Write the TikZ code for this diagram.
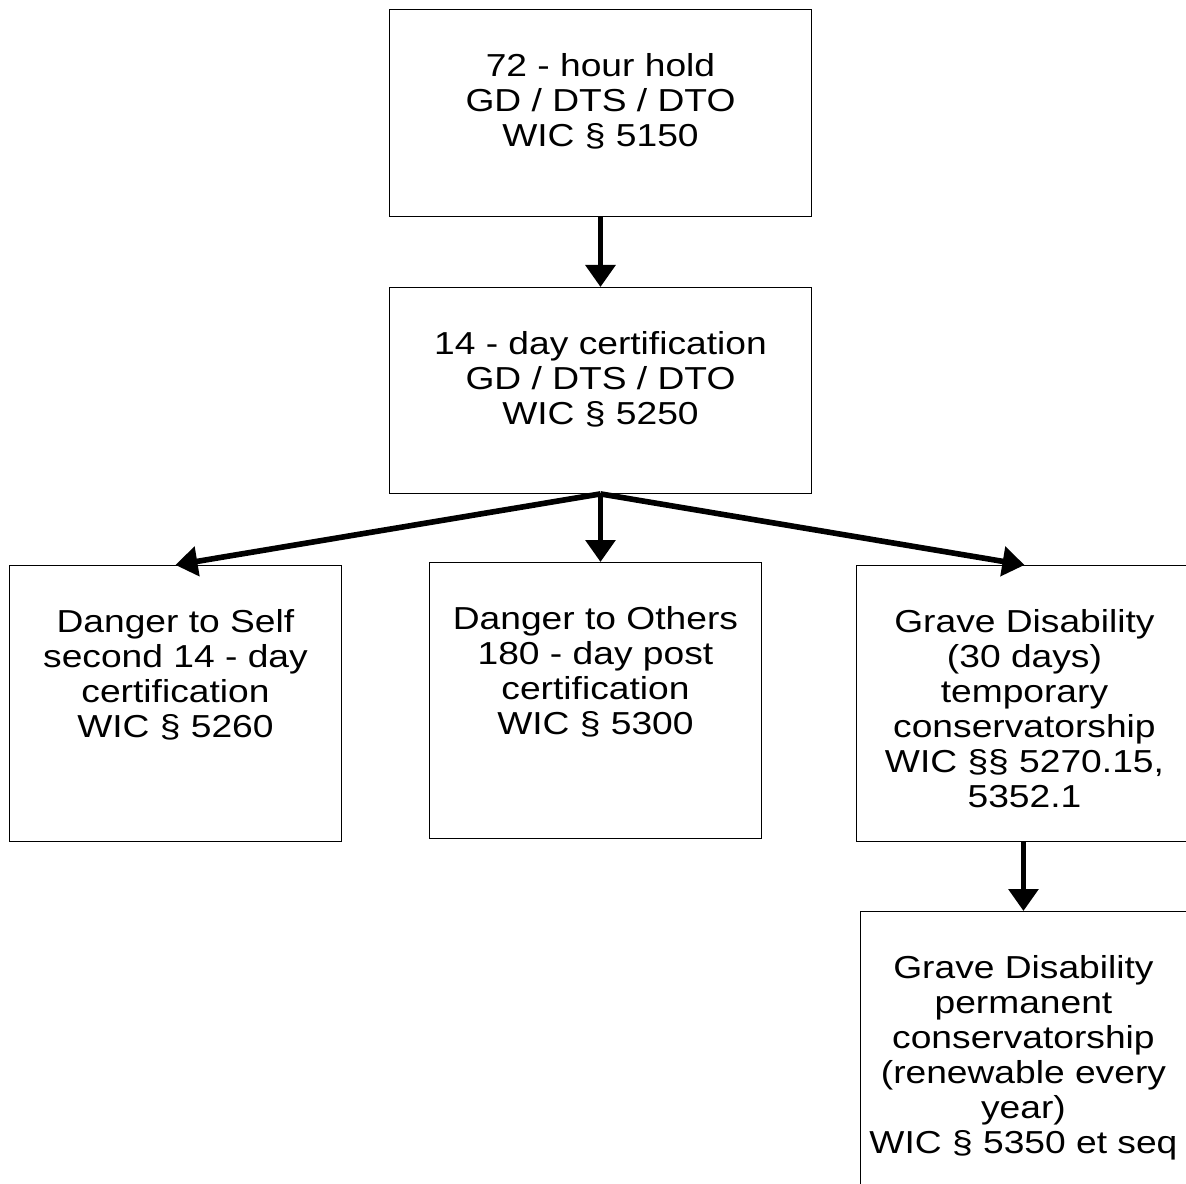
\documentclass[tikz,border=0pt]{standalone}
\usepackage{fontspec}
\setmainfont[FakeStretch=1.17]{Liberation Sans}
\usetikzlibrary{arrows.meta,positioning}

% box text: width, height, lines (top aligned)
\newcommand{\stagetext}[3]{\parbox[c][#2][t]{#1}{\centering\rule{0pt}{1.68cm}#3}}

\tikzset{
	stage/.style={draw, line width=0.6pt, inner sep=0pt, anchor=north west,
		font=\fontsize{22.6pt}{24.9pt}\selectfont},
	flow/.style={line width=4pt, -{Triangle[length=5.5mm,width=7.3mm]}}
}

\begin{document}
\begin{tikzpicture}[x=0.025cm,y=-0.025cm]
		\useasboundingbox (0,0) rectangle (1186,1184);
		
		\node[stage] (hold) at (389,9)
			{\stagetext{10.55cm}{5.175cm}{72 - hour hold\\GD / DTS / DTO\\WIC § 5150}};
		\node[stage] (cert) at (389,287)
			{\stagetext{10.55cm}{5.15cm}{14 - day certification\\GD / DTS / DTO\\WIC § 5250}};
		
		% three outcomes
		\node[stage] (self) at (9,565)
			{\stagetext{8.3cm}{6.9cm}{Danger to Self\\second 14 - day\\certification\\WIC § 5260}};
		\node[stage] (others) at (429,562)
			{\stagetext{8.3cm}{6.9cm}{Danger to Others\\180 - day post\\certification\\WIC § 5300}};
		\node[stage] (grave) at (856,565)
			{\stagetext{8.4cm}{6.9cm}{Grave Disability\\(30 days)\\temporary\\conservatorship\\WIC §§ 5270.15,\\5352.1}};
		\node[stage] (perm) at (860,911)
			{\stagetext{8.15cm}{7.0cm}{Grave Disability\\permanent\\conservatorship\\(renewable every\\year)\\WIC § 5350 et seq}};
		
		\draw[flow] (hold.south) -- (cert.north);
		\draw[flow] (cert.south) -- (self.north);
		\draw[flow] (cert.south) -- (cert.south |- others.north);
		\draw[flow] (cert.south) -- (grave.north);
		\draw[flow] (perm.north |- grave.south) -- (perm.north);
	\end{tikzpicture}
\end{document}
